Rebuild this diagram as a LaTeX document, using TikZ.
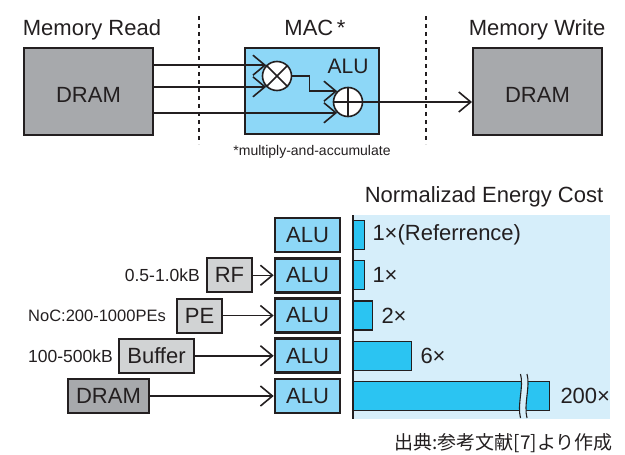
\documentclass[tikz,border=0pt]{standalone}
\usepackage{fontspec}
\setmainfont{Liberation Sans}
\newfontfamily\jpfont{Noto Sans CJK JP}
\usetikzlibrary{arrows.meta}
\definecolor{ink}{HTML}{231F20}
\definecolor{dramgray}{HTML}{A7A9AC}
\definecolor{lightgrey}{HTML}{D1D3D4}
\definecolor{macblue}{HTML}{8DD7F7}
\definecolor{barblue}{HTML}{2BC4F2}
\definecolor{bgblue}{HTML}{D6EEFA}
\tikzset{
  txt/.style={font=\fontsize{22}{24}\selectfont, text=ink, inner sep=0pt},
  small/.style={font=\fontsize{17.5}{20}\selectfont, text=ink, inner sep=0pt},
  box/.style={draw=ink, line width=2pt, inner sep=0pt, font=\fontsize{22}{24}\selectfont, text=ink},
  dram/.style={box, fill=dramgray},
  mem/.style={box, fill=lightgrey, minimum height=34pt},
  alubox/.style={box, fill=macblue, line width=2.6pt, minimum width=65pt, minimum height=34pt},
  bar/.style={draw=ink, line width=1.3pt, fill=barblue, minimum height=29pt, inner sep=0pt, anchor=west},
  op/.style={circle, draw=ink, line width=1.6pt, fill=white, minimum size=29pt, inner sep=0pt},
  conn/.style={draw=ink, line width=1.5pt, -{Straight Barb[length=12pt,width=20pt,line width=1.6pt]}},
  divider/.style={draw=ink, line width=1.5pt, dash pattern=on 4pt off 4pt},
}
\begin{document}
\begin{tikzpicture}[x=1pt,y=-1pt]
\useasboundingbox (0,0) rectangle (625,455);

% ---------- top part ----------
\node[txt, anchor=base] (tRead)  at (92,35)  {Memory Read};
\node[txt, anchor=base] (tMac)   at (315,35) {MAC\,*};
\node[txt, anchor=base] (tWrite) at (537,35) {Memory Write};

\draw[divider] (199,16) -- (199,144);
\draw[divider] (426,16) -- (426,144);

\node[dram, minimum width=129pt, minimum height=87pt, text height=21.5pt, text depth=0pt] (dramL) at (88.5,91.5) {DRAM};
\node[dram, minimum width=129pt, minimum height=87pt, text height=21.5pt, text depth=0pt] (dramR) at (537.5,91.5) {DRAM};

\node[box, fill=macblue, minimum width=134pt, minimum height=86pt] (mac) at (312,91) {};
\node[txt, font=\fontsize{21}{24}\selectfont] (macalu) at (348,66) {ALU};

\node[op] (mult) at (277,76) {};
\draw[ink, line width=1.6pt] (mult.north west) -- (mult.south east);
\draw[ink, line width=1.6pt] (mult.north east) -- (mult.south west);
\node[op] (plus) at (348,102) {};
\draw[ink, line width=1.6pt] (plus.north) -- (plus.south);
\draw[ink, line width=1.6pt] (plus.west) -- (plus.east);

\draw[conn] (dramL.east |- mult.north west) -- (mult.north west);
\draw[conn] (dramL.east |- mult.south west) -- (mult.south west);
\draw[conn] (dramL.east |- plus.south west) -- (plus.south west);
\draw[conn] (mult.east) -- ++(17,0) |- (plus.north west);
\draw[conn] (plus.east) -- (plus.east -| dramR.west);

\node[txt, font=\fontsize{14}{16}\selectfont, anchor=base] (note) at (312,155) {*multiply-and-accumulate};

% ---------- bottom part ----------
\node[txt, anchor=base] (chartTitle) at (484,202) {Normalizad Energy Cost};
\fill[bgblue] (352,215) rectangle (610,419);
\draw[ink, line width=1.5pt] (353,215) -- (353,419);

\foreach \i/\y in {1/235,2/275.25,3/315.5,4/355.75,5/396}{
  \node[alubox] (alu\i) at (307.5,\y) {ALU};
}

\node[bar, minimum width=11pt]  (bar1) at (353,235)    {};
\node[bar, minimum width=11pt]  (bar2) at (353,275.25) {};
\node[bar, minimum width=19pt]  (bar3) at (353,315.5)  {};
\node[bar, minimum width=58pt]  (bar4) at (353,355.75) {};
\node[bar, minimum width=196pt] (bar5) at (353,396)    {};

% break marks on the long bar
\fill[bgblue] (520.5,374) .. controls (524,386) and (517,405) .. (520.5,418)
  -- (527,418) .. controls (523.5,405) and (530.5,386) .. (527,374) -- cycle;
\draw[ink, line width=1.1pt] (520.5,374) .. controls (524,386) and (517,405) .. (520.5,418);
\draw[ink, line width=1.1pt] (527,374) .. controls (530.5,386) and (523.5,405) .. (527,418);

\node[txt, anchor=west] (lab1) at ([xshift=7pt]bar1.east) {1×(Referrence)};
\node[txt, anchor=west] (lab2) at ([xshift=7pt]bar2.east) {1×};
\node[txt, anchor=west] (lab3) at ([xshift=8pt]bar3.east) {2×};
\node[txt, anchor=west] (lab4) at ([xshift=8pt]bar4.east) {6×};
\node[txt, anchor=west] (lab5) at ([xshift=10pt]bar5.east) {200×};

\node[mem, minimum width=45pt] (rf)  at (229.5,275.25) {RF};
\node[mem, minimum width=45pt] (pe)  at (199.5,315.5)  {PE};
\node[mem, minimum width=75pt] (buf) at (156.5,355.75) {Buffer};
\node[dram, minimum width=81pt, minimum height=34pt] (dram2) at (108.5,396) {DRAM};

\node[small, anchor=east] (rfLab)  at (200,275.25) {0.5-1.0kB};
\node[small, anchor=east, font=\fontsize{16.5}{20}\selectfont] (peLab)  at (166,315.5)  {NoC:200-1000PEs};
\node[small, anchor=east] (bufLab) at (113,355.75) {100-500kB};

\draw[conn] (rf.east) -- (alu2.west);
\draw[conn] (pe.east) -- (alu3.west);
\draw[conn] (buf.east) -- (alu4.west);
\draw[conn] (dram2.east) -- (alu5.west);

\node[anchor=east, inner sep=0pt, text=ink, font=\jpfont\fontsize{19}{21}\selectfont] (source) at (613,443.5) {出典:参考文献[7]より作成};
\end{tikzpicture}
\end{document}
